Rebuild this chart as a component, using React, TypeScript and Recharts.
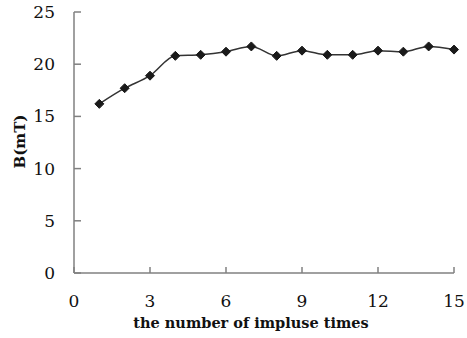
import React from 'react';
import { LineChart, Line, XAxis, YAxis, Label } from 'recharts';

const impulseTimes = [1, 2, 3, 4, 5, 6, 7, 8, 9, 10, 11, 12, 13, 14, 15];
const fieldValues = [16.2, 17.7, 18.9, 20.8, 20.9, 21.2, 21.7, 20.8, 21.3, 20.9, 20.9, 21.3, 21.2, 21.7, 21.4];
const xTicks = [0, 3, 6, 9, 12, 15];
const yTicks = [0, 5, 10, 15, 20, 25];

const data = impulseTimes.map((t, i) => ({ t, b: fieldValues[i] }));

const FONT = '"DejaVu Serif", serif';

const Diamond = (props: any) => {
  const { cx, cy } = props;
  if (cx == null || cy == null) return null;
  const r = 4.5;
  return (
    <polygon
      points={`${cx},${cy - r} ${cx + r},${cy} ${cx},${cy + r} ${cx - r},${cy}`}
      fill="#1a1a1a"
      stroke="#1a1a1a"
    />
  );
};

const YTitle = (props: any) => {
  const vb = props.viewBox || {};
  const x = (vb.x ?? 0) + 25;
  const y = (vb.y ?? 0) + (vb.height ?? 0) / 2 - 1;
  return (
    <text
      x={x}
      y={y}
      transform={`rotate(-90 ${x} ${y})`}
      textAnchor="middle"
      fill="#111"
      fontSize={15}
      fontWeight="bold"
      fontFamily={FONT}
    >
      B(mT)
    </text>
  );
};

export default function App() {
  return (
    <div style={{ position: 'absolute', left: 0, top: 0, width: 467, height: 338, background: '#fff' }}>
      <LineChart width={467} height={338} data={data} margin={{ top: 12, right: 13, left: 0, bottom: 0 }}>
        <XAxis
          dataKey="t"
          type="number"
          domain={[0, 15]}
          ticks={xTicks}
          height={65}
          stroke="#808080"
          strokeWidth={1.5}
          tickSize={-6}
          tickMargin={28}
          tick={{ fill: '#111', fontSize: 17, fontFamily: FONT }}
        >
          <Label
            value="the number of impluse times"
            position="insideBottom"
            offset={10}
            dx={-13}
            style={{ fill: '#111', fontSize: 14.5, fontWeight: 'bold', fontFamily: FONT }}
          />
        </XAxis>
        <YAxis
          type="number"
          domain={[0, 25]}
          ticks={yTicks}
          width={74}
          stroke="#808080"
          strokeWidth={1.5}
          tickSize={-7}
          tickMargin={26}
          tick={{ fill: '#111', fontSize: 17, fontFamily: FONT }}
        >
          <Label content={<YTitle />} />
        </YAxis>
        <Line
          type="monotone"
          dataKey="b"
          stroke="#333"
          strokeWidth={1.5}
          dot={<Diamond />}
          activeDot={false}
          isAnimationActive={false}
        />
      </LineChart>
    </div>
  );
}
